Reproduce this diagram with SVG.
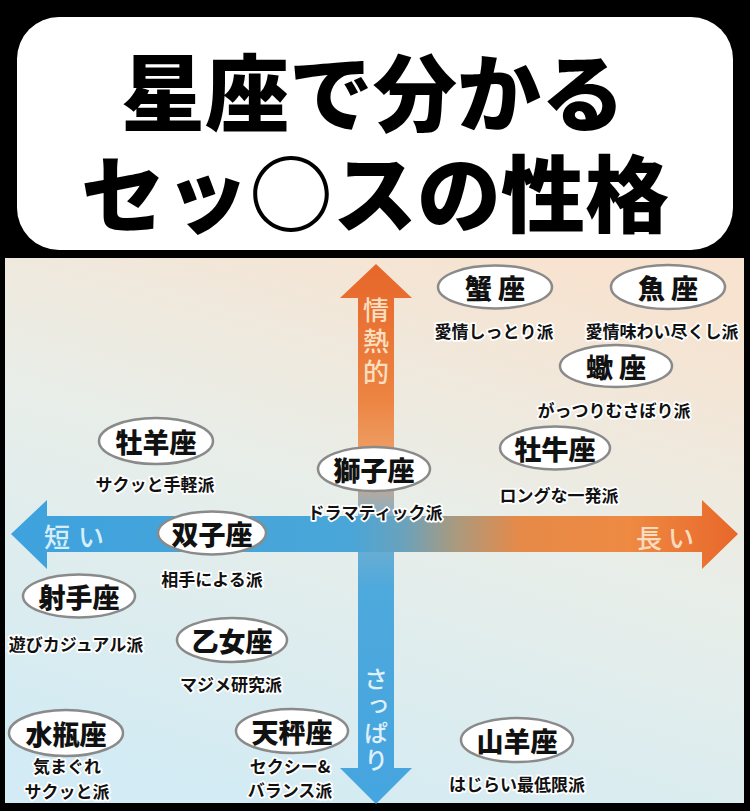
<svg xmlns="http://www.w3.org/2000/svg" width="750" height="811" viewBox="0 0 750 811">
<defs>
<linearGradient id="bg" x1="0.7" y1="0" x2="0.3" y2="1">
<stop offset="0" stop-color="#f7e3d0"/>
<stop offset="0.45" stop-color="#e8eee9"/>
<stop offset="1" stop-color="#d2ebf4"/>
</linearGradient>
<linearGradient id="vg" gradientUnits="userSpaceOnUse" x1="0" y1="264" x2="0" y2="804">
<stop offset="0" stop-color="#e7662a"/>
<stop offset="0.25" stop-color="#ec8442"/>
<stop offset="0.37" stop-color="#eea36c"/>
<stop offset="0.47" stop-color="#7fb0cc"/>
<stop offset="0.6" stop-color="#4ea9dc"/>
<stop offset="1" stop-color="#45a5e0"/>
</linearGradient>
<linearGradient id="hg" gradientUnits="userSpaceOnUse" x1="10" y1="0" x2="738" y2="0">
<stop offset="0" stop-color="#3ea2de"/>
<stop offset="0.47" stop-color="#4aa6d8"/>
<stop offset="0.54" stop-color="#6aa2bc"/>
<stop offset="0.61" stop-color="#a89a80"/>
<stop offset="0.7" stop-color="#e68a48"/>
<stop offset="0.85" stop-color="#ee8a42"/>
<stop offset="1" stop-color="#e8672a"/>
</linearGradient>
</defs>
<style>
.title{font-family:"Noto Sans CJK JP","Noto Sans CJK SC",sans-serif;font-weight:900;font-size:84px;fill:#000;text-anchor:middle;dominant-baseline:central}
.node ellipse{fill:#fff;stroke:#8a8a8a;stroke-width:2.5}
.lbl{font-family:"Noto Sans CJK JP","Noto Sans CJK SC",sans-serif;font-weight:900;font-size:27px;fill:#111;text-anchor:middle;dominant-baseline:central}
.sub{font-family:"Noto Sans CJK JP","Noto Sans CJK SC",sans-serif;font-weight:700;font-size:17px;fill:#111;stroke:#fff;stroke-width:3.5;stroke-linejoin:round;paint-order:stroke;text-anchor:middle;dominant-baseline:central}
.ax{font-family:"Noto Sans CJK JP","Noto Sans CJK SC",sans-serif;font-weight:500;font-size:26px;text-anchor:middle;dominant-baseline:central}
.vt{font-family:"Noto Sans CJK JP","Noto Sans CJK SC",sans-serif;font-weight:500;writing-mode:vertical-rl;text-anchor:start}
</style>
<rect x="0" y="0" width="750" height="811" fill="#000"/>
<g id="title">
<rect x="17" y="17" width="716" height="233" rx="42" fill="#fff"/>
<text class="title"><tspan x="373" y="88">星座で分かる</tspan><tspan x="375" y="189">セッ○スの性格</tspan></text>
</g>
<rect id="panel" x="5" y="258" width="739" height="545" fill="url(#bg)"/>
<g id="axes">
<path d="M358,298 L340,298 L376,264 L412,298 L394,298 L394,768 L412,768 L376,804 L340,768 L358,768 Z" fill="url(#vg)"/>
<path d="M47,516 L47,500 L11,534 L47,569 L47,552 L702,552 L702,569 L738,534 L702,500 L702,516 Z" fill="url(#hg)"/>
<text class="vt" x="376" y="297" font-size="26" letter-spacing="5" fill="#f9dfbf">情熱的</text>
<text class="vt" x="376" y="667" font-size="24" letter-spacing="3" fill="#dff0fa">さっぱり</text>
<text class="ax" x="78" y="535" fill="#d6eef8" letter-spacing="8">短い</text>
<text class="ax" x="668" y="536" fill="#f9dcc0" letter-spacing="6">長い</text>
</g>
<g id="node-kani" class="node">
<ellipse cx="495" cy="287" rx="57" ry="21.5"/>
<text class="lbl" x="495" y="287">蟹 座</text>
<text class="sub" x="494" y="330">愛情しっとり派</text>
</g>
<g id="node-uo" class="node">
<ellipse cx="668" cy="287" rx="57" ry="22"/>
<text class="lbl" x="668" y="287">魚 座</text>
<text class="sub" x="662" y="330">愛情味わい尽くし派</text>
</g>
<g id="node-sasori" class="node">
<ellipse cx="616" cy="366" rx="56" ry="21"/>
<text class="lbl" x="616" y="366">蠍 座</text>
<text class="sub" x="614" y="409">がっつりむさぼり派</text>
</g>
<g id="node-oushi" class="node">
<ellipse cx="555" cy="448" rx="55" ry="21.5"/>
<text class="lbl" x="555" y="448">牡牛座</text>
<text class="sub" x="559" y="494">ロングな一発派</text>
</g>
<g id="node-ohitsuji" class="node">
<ellipse cx="156" cy="441" rx="57" ry="23"/>
<text class="lbl" x="156" y="441">牡羊座</text>
<text class="sub" x="155" y="483">サクッと手軽派</text>
</g>
<g id="node-shishi" class="node">
<ellipse cx="374" cy="469" rx="56" ry="22"/>
<text class="lbl" x="374" y="469">獅子座</text>
<text class="sub" x="375" y="511">ドラマティック派</text>
</g>
<g id="node-futago" class="node">
<ellipse cx="212" cy="533" rx="54" ry="21.5"/>
<text class="lbl" x="212" y="533">双子座</text>
<text class="sub" x="212" y="578">相手による派</text>
</g>
<g id="node-ite" class="node">
<ellipse cx="79" cy="596" rx="56" ry="21.5"/>
<text class="lbl" x="79" y="596">射手座</text>
<text class="sub" x="76" y="643">遊びカジュアル派</text>
</g>
<g id="node-otome" class="node">
<ellipse cx="232" cy="640" rx="55" ry="22"/>
<text class="lbl" x="232" y="640">乙女座</text>
<text class="sub" x="231" y="683">マジメ研究派</text>
</g>
<g id="node-mizugame" class="node">
<ellipse cx="66" cy="733" rx="57" ry="23"/>
<text class="lbl" x="66" y="733">水瓶座</text>
<text class="sub"><tspan x="67" y="765">気まぐれ</tspan><tspan x="67" y="790">サクッと派</tspan></text>
</g>
<g id="node-tenbin" class="node">
<ellipse cx="292" cy="731" rx="56" ry="22"/>
<text class="lbl" x="292" y="731">天秤座</text>
<text class="sub"><tspan x="290" y="765">セクシー&amp;</tspan><tspan x="290" y="789">バランス派</tspan></text>
</g>
<g id="node-yagi" class="node">
<ellipse cx="517" cy="740" rx="56" ry="22"/>
<text class="lbl" x="517" y="740">山羊座</text>
<text class="sub" x="517" y="783">はじらい最低限派</text>
</g>
</svg>
